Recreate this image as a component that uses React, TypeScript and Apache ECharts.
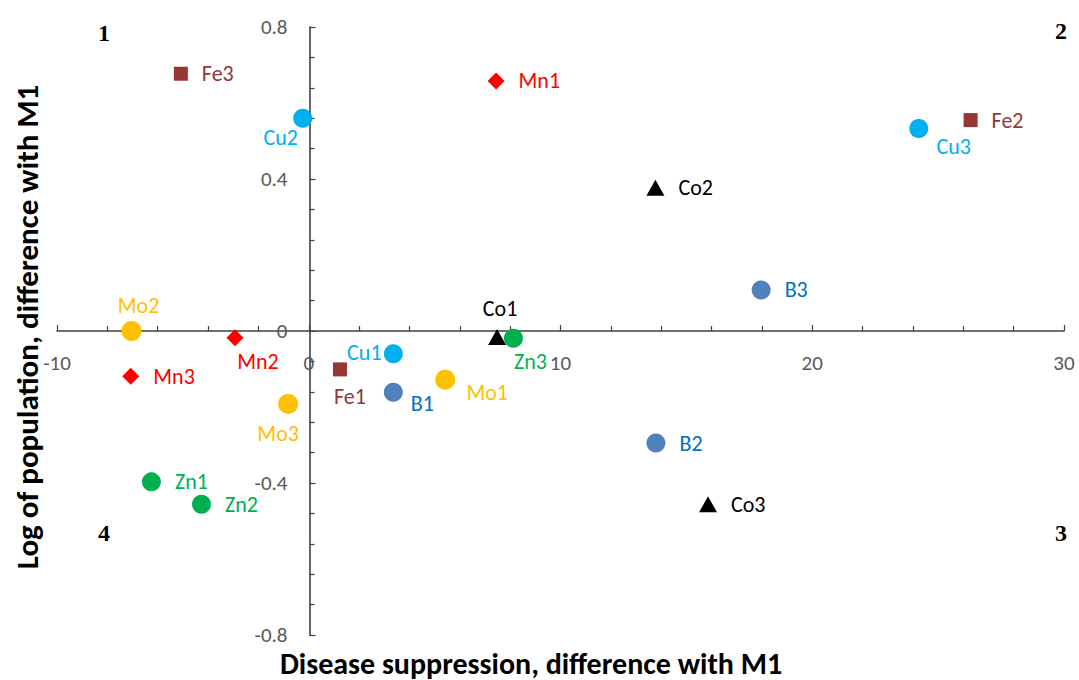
import React, { useEffect, useRef } from "react";
import * as echarts from "echarts";

// ---- data ----
const pointNames = ["Fe1", "Fe2", "Fe3", "Mn1", "Mn2", "Mn3", "Cu1", "Cu2", "Cu3", "Co1", "Co2", "Co3", "B1", "B2", "B3", "Mo1", "Mo2", "Mo3", "Zn1", "Zn2", "Zn3"];
const pointX = [1.24, 26.29, -5.08, 7.44, -2.93, -7.07, 3.36, -0.24, 24.23, 7.48, 13.77, 15.86, 3.36, 13.79, 17.97, 5.42, -7.04, -0.82, -6.25, -4.26, 8.13];
const pointY = [-0.101, 0.555, 0.677, 0.658, -0.018, -0.119, -0.06, 0.56, 0.533, -0.016, 0.377, -0.456, -0.161, -0.295, 0.108, -0.128, 0.0, -0.192, -0.397, -0.456, -0.019];
const groups = ["Fe", "Mn", "Cu", "Co", "B", "Mo", "Zn"];

const xTicks = [-10, 0, 10, 20, 30];
const yTicks = [-0.8, -0.4, 0, 0.4, 0.8];

// ---- styles ----
const groupStyle: Record<string, { symbol: string; size: number | number[]; color: string; label: string }> = {
  Fe: { symbol: "rect", size: 14, color: "#953735", label: "#953735" },
  Mn: { symbol: "diamond", size: 17, color: "#FF0000", label: "#FF0000" },
  Cu: { symbol: "circle", size: 19, color: "#00B0F0", label: "#00B0F0" },
  Co: { symbol: "triangle", size: [18, 16], color: "#000000", label: "#000000" },
  B: { symbol: "circle", size: 19, color: "#4F81BD", label: "#0070C0" },
  Mo: { symbol: "circle", size: 20, color: "#FFC000", label: "#FFC000" },
  Zn: { symbol: "circle", size: 19, color: "#00B050", label: "#00B050" },
};

// label placement: "right" or an offset from the marker centre
const labelPlace: Record<string, "right" | number[]> = {
  Fe1: [10, 27], Fe2: "right", Fe3: "right",
  Mn1: "right", Mn2: [23, 24], Mn3: "right",
  Cu1: [-29, -1], Cu2: [-22, 19], Cu3: [35, 18],
  Co1: [3, -29], Co2: "right", Co3: "right",
  B1: [29, 11], B2: "right", B3: "right",
  Mo1: [42, 13], Mo2: [7, -26], Mo3: [-10, 30],
  Zn1: "right", Zn2: "right", Zn3: [17, 23],
};

const FONT = "Carlito, Calibri, Lato, sans-serif";
const AXIS_COLOR = "#404040";

export default function App() {
  const ref = useRef<HTMLDivElement>(null);
  useEffect(() => {
    if (!ref.current) return;
    const chart = echarts.init(ref.current, undefined, { renderer: "svg" });

    const series = groups.map((g) => {
      const st = groupStyle[g];
      const data: any[] = [];
      pointNames.forEach((n, i) => {
        if (n.replace(/\d+$/, "") !== g) return;
        const place = labelPlace[n];
        const label =
          place === "right"
            ? { show: true, position: "right", distance: 14 }
            : { show: true, position: "inside", offset: place, align: "center", verticalAlign: "middle" };
        data.push({ name: n, value: [pointX[i], pointY[i]], label });
      });
      return {
        type: "scatter",
        name: g,
        symbol: st.symbol,
        symbolSize: st.size,
        itemStyle: { color: st.color, opacity: 1 },
        label: {
          show: true,
          formatter: "{b}",
          color: st.label,
          fontSize: 22,
          fontFamily: FONT,
        },
        emphasis: { disabled: true },
        data,
      };
    });

    const axisLine = { show: true, onZero: false, lineStyle: { color: AXIS_COLOR, width: 1.6 } };
    const tick = { show: true, inside: true, length: 6, lineStyle: { color: AXIS_COLOR, width: 1.2 } };
    const minor = { show: true, splitNumber: 5, length: 5, lineStyle: { color: AXIS_COLOR, width: 1.2 } };
    const gridTop = 27;
    const gridBottom = 45;
    const gridLeft = 57;

    const option: any = {
      animation: false,
      backgroundColor: "#ffffff",
      grid: { left: gridLeft, right: 15, top: gridTop, bottom: gridBottom, containLabel: false },
      xAxis: {
        type: "value",
        min: xTicks[0],
        max: xTicks[xTicks.length - 1],
        interval: 10,
        axisLine,
        axisTick: tick,
        minorTick: minor,
        splitLine: { show: false },
        minorSplitLine: { show: false },
        axisLabel: { color: "#595959", fontSize: 21, fontFamily: FONT, margin: 21 },
      },
      yAxis: {
        type: "value",
        min: yTicks[0],
        max: yTicks[yTicks.length - 1],
        interval: 0.4,
        axisLine,
        axisTick: tick,
        minorTick: minor,
        splitLine: { show: false },
        minorSplitLine: { show: false },
        axisLabel: {
          color: "#595959",
          fontSize: 21,
          fontFamily: FONT,
          margin: 22,
          formatter: (v: number) => String(Math.round(v * 10) / 10),
        },
      },
      graphic: [
        { type: "text", x: 104, y: 33, style: { text: "1", font: "bold 24px 'Liberation Serif', serif", fill: "#000", textAlign: "center", textVerticalAlign: "middle" } },
        { type: "text", x: 1061, y: 31, style: { text: "2", font: "bold 24px 'Liberation Serif', serif", fill: "#000", textAlign: "center", textVerticalAlign: "middle" } },
        { type: "text", x: 1061, y: 533, style: { text: "3", font: "bold 24px 'Liberation Serif', serif", fill: "#000", textAlign: "center", textVerticalAlign: "middle" } },
        { type: "text", x: 104, y: 533, style: { text: "4", font: "bold 24px 'Liberation Serif', serif", fill: "#000", textAlign: "center", textVerticalAlign: "middle" } },
        {
          type: "text",
          x: 531,
          y: 663,
          style: { text: "Disease suppression, difference with M1", font: `bold 30px ${FONT}`, lineHeight: 28, fill: "#000", textAlign: "center", textVerticalAlign: "middle" },
        },
        {
          type: "text",
          x: 27,
          y: 327,
          rotation: Math.PI / 2,
          style: { text: "Log of population, difference with M1", font: `bold 31px ${FONT}`, fill: "#000", textAlign: "center", textVerticalAlign: "middle" },
        },
      ],
      series,
    };
    chart.setOption(option);

    // move both axes (line, ticks and labels) so they cross at zero
    const zeroX = chart.convertToPixel({ xAxisIndex: 0 }, 0) as number;
    const zeroY = chart.convertToPixel({ yAxisIndex: 0 }, 0) as number;
    const bottomEdge = 680 - gridBottom;
    chart.setOption({
      xAxis: { offset: -(bottomEdge - zeroY) },
      yAxis: { offset: -(zeroX - gridLeft) },
    });

    return () => chart.dispose();
  }, []);

  return <div ref={ref} style={{ position: "fixed", left: 0, top: 0, width: 1079, height: 680, background: "#fff" }} />;
}
